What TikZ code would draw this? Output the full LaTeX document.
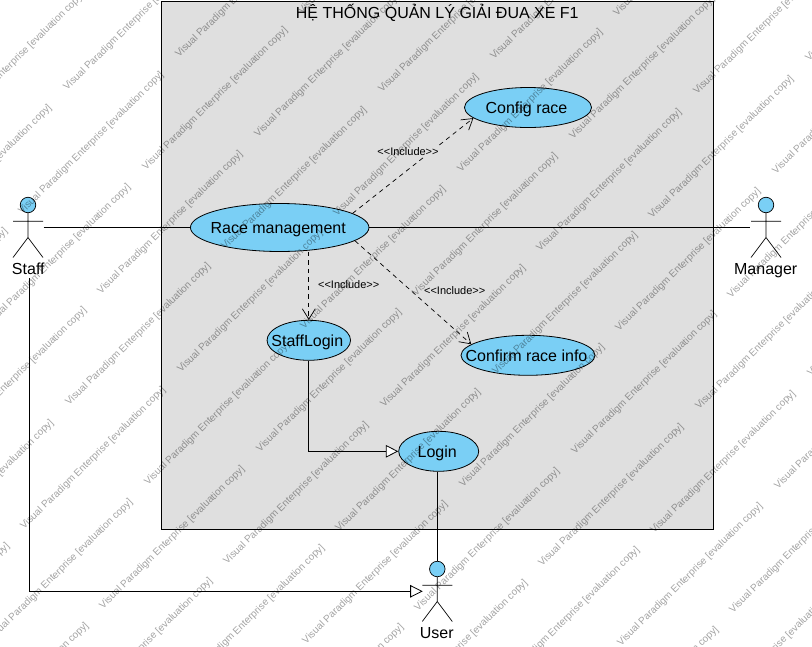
\documentclass[tikz,border=0pt]{standalone}
\usepackage{fontspec}
\setmainfont{Liberation Sans}
\usetikzlibrary{shapes.geometric,arrows.meta}
\definecolor{ucblue}{HTML}{7ACFF5}
\definecolor{sysgray}{HTML}{DFDFDF}
\tikzset{
  sysbox/.style={draw=black,line width=0.8pt,fill=sysgray},
  titletext/.style={font=\fontsize{16}{16}\selectfont,anchor=base,inner sep=0pt},
  usecase/.style={ellipse,draw=black,line width=0.8pt,fill=ucblue,inner sep=0pt,
    font=\fontsize{16}{16}\selectfont,text height=14pt,text depth=2pt},
  actorhead/.style={circle,draw=black,line width=0.7pt,fill=ucblue,inner sep=0pt,minimum size=15.5pt},
  actorline/.style={draw=black,line width=0.7pt},
  actorname/.style={font=\fontsize{16}{16}\selectfont,anchor=base,inner sep=0pt},
  assoc/.style={draw=black,line width=0.8pt},
  gener/.style={assoc,-{Triangle[open,length=12.5pt,width=12.5pt,fill=white]}},
  incl/.style={draw=black,line width=0.7pt,dash pattern=on 4.5pt off 4pt,-{Straight Barb[length=10.5pt,width=13pt]}},
  incllabel/.style={font=\fontsize{11}{11}\selectfont,anchor=base,fill=sysgray,inner sep=0.8pt},
  watermark/.style={font=\fontsize{10}{10}\selectfont,text=black,text opacity=0.36,anchor=base west,inner sep=0pt,rotate=44.5},
}
\newcommand{\uctext}[1]{\makebox[0pt][c]{\kern-3pt #1}}
\newcommand{\ucactor}[3]{% name, x, y of head centre
  \node[actorhead] (#1head) at (#2,#3) {};
  \coordinate (#1hip) at (#2,#3+32.5);
  \coordinate (#1al) at (#2-15,#3+16.3);
  \coordinate (#1ar) at (#2+15,#3+16.3);
  \coordinate (#1ll) at (#2-15,#3+52.5);
  \coordinate (#1lr) at (#2+15,#3+52.5);
  \draw[actorline] (#1head.south) -- (#1hip) (#1al) -- (#1ar) (#1ll) -- (#1hip) -- (#1lr);
}
\begin{document}
\begin{tikzpicture}[x=1pt,y=-1pt]
\useasboundingbox (0,0) rectangle (812,646);
\begin{scope}
\clip (0,0) rectangle (812,646);
\fill[white] (0,0) rectangle (812,646);
\draw[sysbox] (161.5,1.5) rectangle (713.5,529);
\node[titletext] (title) at (437.3,18) {HỆ THỐNG QUẢN LÝ GIẢI ĐUA XE F1};

\node[usecase,minimum width=178.5pt,minimum height=48pt] (race) at (279.7,227.5) {\uctext{Race management}};
\node[usecase,minimum width=127pt,minimum height=40pt] (config) at (528,107.5) {\uctext{Config race}};
\node[usecase,minimum width=134pt,minimum height=40pt] (confirm) at (528,355.3) {\uctext{Confirm race info}};
\node[usecase,minimum width=83.5pt,minimum height=40pt] (stafflogin) at (308.8,340.3) {\uctext{StaffLogin}};
\node[usecase,minimum width=80pt,minimum height=40pt] (login) at (438.7,451.3) {\uctext{Login}};

\ucactor{staff}{28}{205}
\ucactor{manager}{766}{205}
\ucactor{user}{437.3}{569}
\node[actorname] (stafflabel) at (28.3,274.3) {Staff};
\node[actorname] (managerlabel) at (765.7,274.3) {Manager};
\node[actorname] (userlabel) at (436.8,638) {User};

\coordinate (staffhand) at (43.5,227.5);
\coordinate (managerhand) at (750.3,227.5);
\coordinate (stafffoot) at (29.3,278);
\coordinate (userside) at (422.7,591.3);

\draw[assoc] (staffhand) -- (race.west);
\draw[assoc] (race.east) -- (managerhand);
\draw[assoc] (userhead.north |- login.south) -- (userhead.north);
\draw[gener] (stafflogin.south) |- (login.west);
\draw[gener] (stafffoot) |- (userside);

\draw[incl] (race.11.7) -- (config.191.5);
\draw[incl] (race.-10.8) -- (confirm.169.8);
\draw[incl] (stafflogin.north |- race.south) -- (stafflogin.north);

\node[incllabel] (incla) at (408,155.7) {<{}<Include>{}>};
\node[incllabel] (inclb) at (348.7,288.8) {<{}<Include>{}>};
\node[incllabel] (inclc) at (454.7,294.8) {<{}<Include>{}>};

% watermark lattice
\foreach \ox/\oy/\tag in {67/91/a,179/58/b}{
  \foreach \k in {0,1,2,3}{
    \foreach \m in {-1,0,1,2}{
      \foreach \n in {-1,0,1,2}{
        \pgfmathsetmacro{\wx}{\ox+79*\k+315*\m+2*\n}
        \pgfmathsetmacro{\wy}{\oy+79.5*\k+2*\m+315*\n}
        \pgfmathparse{(\wx<812 && \wx>-145 && \wy>0 && \wy<790) ? 1 : 0}
        \ifnum\pgfmathresult>0
          \pgfmathtruncatemacro{\wmm}{\m+1}
          \pgfmathtruncatemacro{\wnn}{\n+1}
          \node[watermark] (wm\tag\k\wmm\wnn) at (\wx,\wy) {Visual Paradigm Enterprise [evaluation copy]};
        \fi
      }
    }
  }
}
\end{scope}
\end{tikzpicture}
\end{document}
